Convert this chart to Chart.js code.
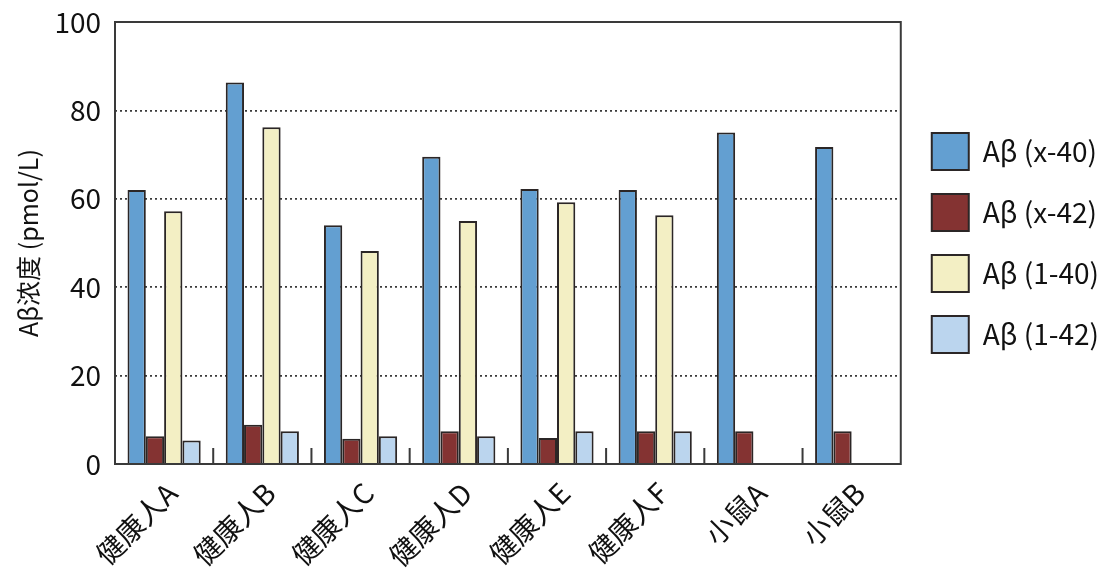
<!DOCTYPE html>
<html>
<head>
<meta charset="utf-8">
<script src="https://cdn.jsdelivr.net/npm/chart.js@4/dist/chart.umd.min.js"></script>
<style>
  html, body { margin: 0; padding: 0; background: #fff; }
  #wrap { width: 1107px; height: 585px; position: relative; }
</style>
</head>
<body>
<div id="wrap"><canvas id="grafik"></canvas></div>
<script>
// Data dari gambar
const kategori = ["健康人A", "健康人B", "健康人C", "健康人D", "健康人E", "健康人F", "小鼠A", "小鼠B"];
const abX40 = [62, 86.3, 54, 69.5, 62.2, 62, 75, 71.7];
const abX42 = [6.3, 8.9, 5.7, 7.4, 5.9, 7.4, 7.4, 7.4];
const ab140 = [57.2, 76.2, 48.2, 55, 59.2, 56.3, null, null];
const ab142 = [5.3, 7.4, 6.3, 6.3, 7.4, 7.4, null, null];
const yTicks = [0, 20, 40, 60, 80, 100];

const FONT = "'Noto Sans CJK SC', 'Noto Sans CJK JP', sans-serif";
const GARIS = "#2b2626";

// Bingkai + tick kecil di sumbu x
const bingkai = {
  id: "bingkai",
  afterLayout(chart) {
    // legenda dipusatkan terhadap area plot, sedikit digeser ke kanan
    const lg = chart.legend, a = chart.chartArea;
    lg.top = a.top;
    lg.bottom = a.bottom;
    lg.left += 7;
    lg.right += 7;
  },
  afterDatasetsDraw(chart) {
    const { ctx, chartArea: a, scales: { x } } = chart;
    ctx.save();
    ctx.strokeStyle = "#3a3a3a";
    ctx.lineWidth = 2;
    ctx.strokeRect(a.left, a.top, a.width, a.height);
    ctx.beginPath();
    for (let i = 1; i < kategori.length; i++) {
      const px = (x.getPixelForValue(i - 1) + x.getPixelForValue(i)) / 2;
      ctx.moveTo(px, a.bottom);
      ctx.lineTo(px, a.bottom - 16);
    }
    ctx.stroke();
    ctx.restore();
  }
};

function dataset(label, data, warna) {
  return {
    label, data,
    backgroundColor: warna,
    borderColor: GARIS,
    borderWidth: 2,
    categoryPercentage: 0.745,
    barPercentage: 1
  };
}

const ctx = document.getElementById("grafik").getContext("2d");
new Chart(ctx, {
  type: "bar",
  data: {
    labels: kategori,
    datasets: [
      dataset("Aβ (x-40)", abX40, "#639fd1"),
      dataset("Aβ (x-42)", abX42, "#843332"),
      dataset("Aβ (1-40)", ab140, "#f3efc4"),
      dataset("Aβ (1-42)", ab142, "#bbd5ee")
    ]
  },
  options: {
    responsive: true,
    maintainAspectRatio: false,
    animation: false,
    layout: { padding: { top: 22, right: 5, bottom: 0, left: 0 } },
    plugins: {
      tooltip: { enabled: false },
      legend: {
        position: "right",
        labels: {
          boxWidth: 37,
          boxHeight: 37,
          padding: 24,
          color: "#111",
          font: { family: FONT, size: 28 }
        }
      }
    },
    scales: {
      x: {
        grid: { display: false },
        border: { display: false },
        ticks: {
          color: "#111",
          font: { family: FONT, size: 28 },
          minRotation: 45,
          maxRotation: 45,
          labelOffset: 8,
          padding: 4
        },
        afterFit(s) { s.height = 121; }
      },
      y: {
        min: 0,
        max: 100,
        afterBuildTicks(s) { s.ticks = yTicks.map(v => ({ value: v })); },
        grid: {
          drawTicks: false,
          lineWidth: 1.7,
          color: c => (c.tick.value > 0 && c.tick.value < 100) ? "#3a3a3a" : "rgba(0,0,0,0)"
        },
        border: { display: false, dash: [2, 3] },
        ticks: {
          color: "#111",
          font: { family: FONT, size: 28 },
          padding: 14
        },
        title: {
          display: true,
          text: "Aβ浓度 (pmol/L)",
          color: "#111",
          font: { family: FONT, size: 25 },
          padding: { top: 13, bottom: 0 }
        },
        afterFit(s) {
          s.width = 115;
          s.paddingTop = 0;
          s.paddingBottom = 0;
        }
      }
    }
  },
  plugins: [bingkai]
});
</script>
</body>
</html>
